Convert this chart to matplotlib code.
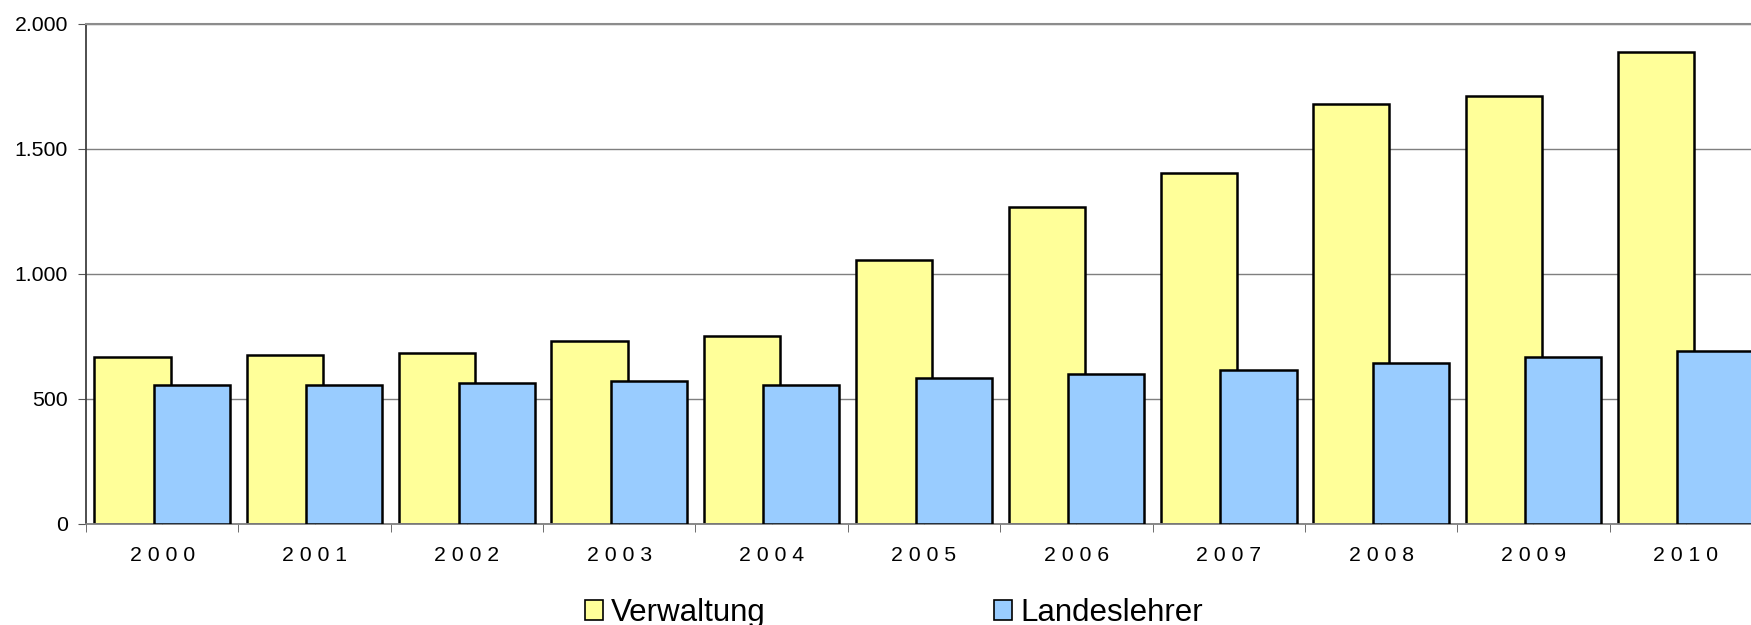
import matplotlib.pyplot as plt
import numpy as np
from matplotlib.patches import Patch
from matplotlib.ticker import FuncFormatter

years = ["2000", "2001", "2002", "2003", "2004", "2005", "2006", "2007", "2008", "2009", "2010"]
verwaltung = [667, 675, 683, 732, 750, 1055, 1265, 1402, 1678, 1710, 1885]
landeslehrer = [556, 556, 562, 571, 556, 581, 599, 614, 643, 667, 690]
series_names = ["Verwaltung", "Landeslehrer"]
yellow = "#FFFF99"
blue = "#99CCFF"

plt.rcParams["font.family"] = ["Liberation Sans", "DejaVu Sans"]

fig = plt.figure(figsize=(17.51, 6.25), dpi=100)
# plot area runs past the right edge, like in the original export
ax = fig.add_axes([86 / 1751, 101.5 / 625, 1676 / 1751, 500 / 625])

x = np.arange(len(years))
ax.bar(x - 0.195, verwaltung, width=0.5, color=yellow, edgecolor="black", linewidth=1.8, zorder=2)
ax.bar(x + 0.195, landeslehrer, width=0.5, color=blue, edgecolor="black", linewidth=1.8, zorder=3)

ax.set_xlim(-0.5, len(years) - 0.5)
ax.set_ylim(0, 2000)
ax.set_yticks([0, 500, 1000, 1500, 2000])
ax.yaxis.set_major_formatter(FuncFormatter(lambda v, _: f"{int(v):,}".replace(",", ".")))
ax.yaxis.grid(True, color="#7f7f7f", linewidth=1.0)
ax.set_axisbelow(True)

# year labels with spaced digits, small ticks at category boundaries
ax.set_xticks(x)
ax.set_xticklabels([" ".join(y) for y in years])
ax.set_xticks(np.arange(-0.5, len(years)), minor=True)
ax.tick_params(axis="x", which="major", direction="in", length=3, pad=16.5, labelsize=15.3)
ax.tick_params(axis="x", which="minor", direction="out", length=6, color="#555555")
ax.tick_params(axis="y", direction="out", length=6, pad=7, labelsize=15.3, color="#555555")

ax.spines["right"].set_visible(False)
ax.spines["top"].set_color("#8c8c8c")
ax.spines["top"].set_linewidth(1.5)
ax.spines["left"].set_color("#404040")
ax.spines["left"].set_linewidth(1.3)
ax.spines["bottom"].set_color("#808080")
ax.spines["bottom"].set_linewidth(1.3)

handles = [
    Patch(facecolor=yellow, edgecolor="black", linewidth=1.2),
    Patch(facecolor=blue, edgecolor="black", linewidth=1.2),
]
fig.legend(
    handles,
    series_names,
    loc="center",
    bbox_to_anchor=(0.5106, 0.019),
    ncol=2,
    frameon=False,
    prop={"size": 22.5},
    handlelength=0.58,
    handleheight=0.58,
    handletextpad=0.25,
    columnspacing=7.3,
    borderpad=0,
)

fig.savefig("out.png", dpi=100)
